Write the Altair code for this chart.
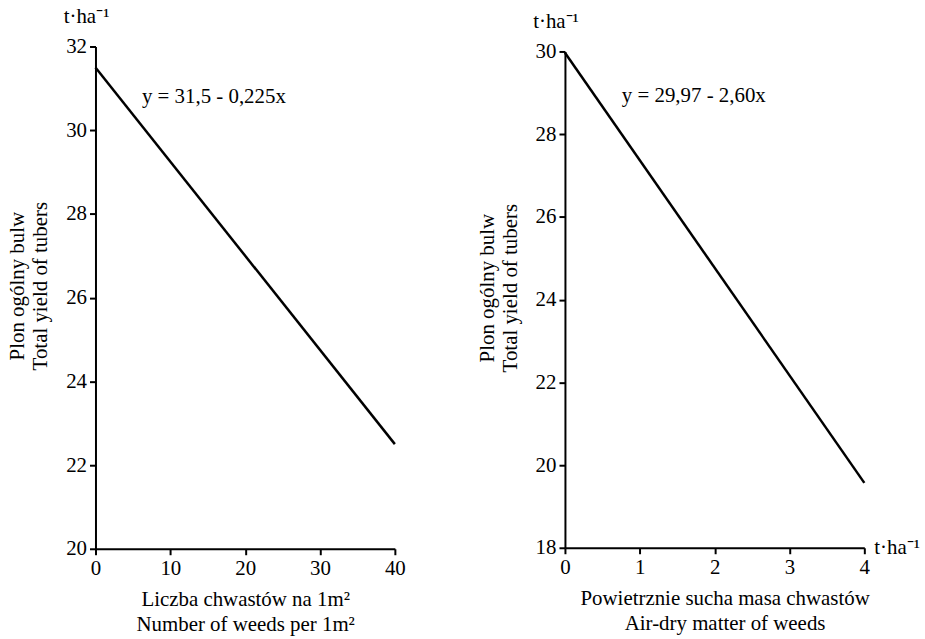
import altair as alt
import pandas as pd

FONT = "Liberation Serif"
FS = 21

# Left panel: yield vs number of weeds
weeds_x = [0, 40]
weeds_yield = [31.5, 22.5]
# Right panel: yield vs air-dry matter of weeds
mass_x = [0, 4]
mass_yield = [29.97, 19.57]

left_ticks_x = [0, 10, 20, 30, 40]
left_ticks_y = [20, 22, 24, 26, 28, 30, 32]
right_ticks_x = [0, 1, 2, 3, 4]
right_ticks_y = [18, 20, 22, 24, 26, 28, 30]

eq_left = "y = 31,5 - 0,225x"
eq_right = "y = 29,97 - 2,60x"
unit = "t·ha⁻¹"
y_title = ["Plon ogólny bulw", "Total yield of tubers"]
left_x_title = ["Liczba chwastów na 1m²", "Number of weeds per 1m²"]
right_x_title = ["Powietrznie sucha masa chwastów", "Air-dry matter of weeds"]

left_df = pd.DataFrame({"x": weeds_x, "y": weeds_yield})
right_df = pd.DataFrame({"x": mass_x, "y": mass_yield})

W = 301


def panel(df, xdom, ydom, xt, yt, xtitle, eq, eq_pos, height, xtitle_x, right_unit):
    xscale = alt.Scale(domain=xdom, nice=False, zero=False)
    yscale = alt.Scale(domain=ydom, nice=False, zero=False)
    line = alt.Chart(df).mark_line(color="black", strokeWidth=2.5).encode(
        x=alt.X("x:Q", scale=xscale,
                axis=alt.Axis(values=xt, title=xtitle, labelFlush=False, format="d",
                              titleX=xtitle_x, titleAlign="center",
                              titlePadding=10, titleLineHeight=25)),
        y=alt.Y("y:Q", scale=yscale,
                axis=alt.Axis(values=yt, title=y_title, labelFlush=False, format="d",
                              titleAngle=-90, titleX=-78, titleY=height / 2 - 12,
                              titleAlign="center", titleBaseline="middle",
                              titleLineHeight=23)),
    )
    ann = pd.DataFrame({"label": [eq]})
    eq_text = alt.Chart(ann).mark_text(align="left", baseline="middle", font=FONT,
                                       fontSize=FS, color="black").encode(
        x=alt.X(datum=eq_pos[0]),
        y=alt.Y(datum=eq_pos[1]),
        text="label:N",
    )
    u = pd.DataFrame({"label": [unit]})
    unit_top = alt.Chart(u).mark_text(align="center", baseline="middle", font=FONT,
                                      fontSize=FS, color="black", dx=-9, dy=-30).encode(
        x=alt.X(datum=xdom[0]),
        y=alt.Y(datum=ydom[1]),
        text="label:N",
    )
    layers = [line, eq_text, unit_top]
    if right_unit:
        unit_right = alt.Chart(u).mark_text(align="left", baseline="middle", font=FONT,
                                            fontSize=FS, color="black", dx=10).encode(
            x=alt.X(datum=xdom[1]),
            y=alt.Y(datum=ydom[0]),
            text="label:N",
        )
        layers.append(unit_right)
    return alt.layer(*layers).properties(width=W, height=height)


left = panel(left_df, [0, 40], [20, 32], left_ticks_x, left_ticks_y,
             left_x_title, eq_left, (6.2, 30.8), 505, W / 2, False)
right = panel(right_df, [0, 4], [18, 30], right_ticks_x, right_ticks_y,
              right_x_title, eq_right, (0.76, 28.92), 499, W / 2 + 10, True)

spacer = alt.Chart(pd.DataFrame({"v": [0]})).mark_point(opacity=0).encode(
    x=alt.value(0), y=alt.value(0)
).properties(width=W, height=5)

right_col = alt.vconcat(spacer, right, spacing=0, bounds="flush")

chart = alt.hconcat(left, right_col, spacing=171, bounds="flush").configure_view(
    stroke=None
).configure_axis(
    grid=False,
    domainColor="black",
    domainWidth=2,
    tickColor="black",
    tickWidth=2,
    tickSize=6,
    labelFont=FONT,
    labelFontSize=FS,
    labelColor="black",
    labelPadding=3,
    titleFont=FONT,
    titleFontSize=FS,
    titleFontWeight="normal",
    titleColor="black",
).properties(
    background="white",
    padding={"left": 7, "top": 4, "right": 5, "bottom": 5},
)

chart.save("out.html", embed_options={"renderer": "svg", "actions": False})
